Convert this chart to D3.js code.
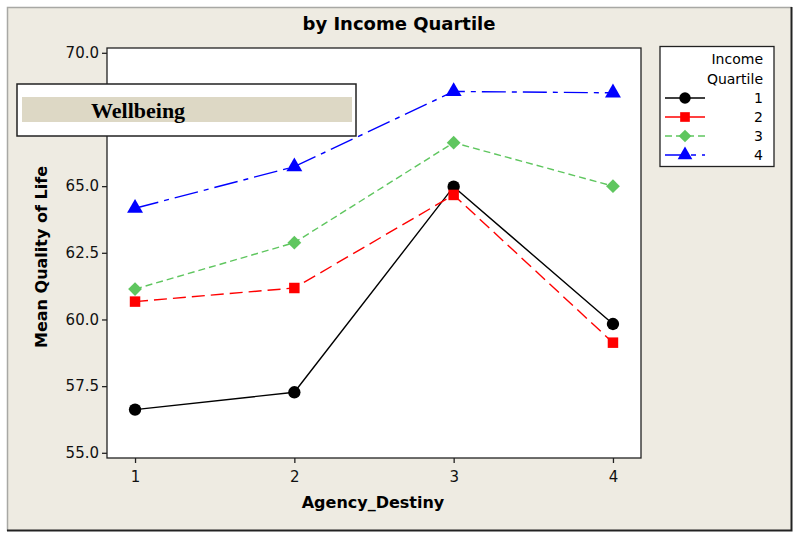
<!DOCTYPE html>
<html lang="en">
<head>
    <meta charset="UTF-8">
    <title>by Income Quartile</title>
    <script src="https://cdn.jsdelivr.net/npm/d3@7"></script>
    <style>
        body { margin: 0; background: #fff; }
        text { font-family: "DejaVu Sans", Verdana, sans-serif; }
    </style>
</head>
<body>
<script>
    // data
    var categories = [1, 2, 3, 4];
    var quartiles = ["1", "2", "3", "4"];
    var q1 = [56.62, 57.27, 64.98, 59.83];
    var q2 = [60.67, 61.18, 64.67, 59.13];
    var q3 = [61.14, 62.88, 66.63, 65.0];
    var q4 = [64.17, 65.73, 68.55, 68.5];
    var yTicks = [55.0, 57.5, 60.0, 62.5, 65.0, 70.0];

    var width = 800, height = 539;
    var svg = d3.select("body").append("svg")
            .attr("width", width)
            .attr("height", height);

    // outer panel
    svg.append("rect").attr("x", 7).attr("y", 7).attr("width", 785).attr("height", 524)
            .style("fill", "#eeebe2");
    svg.append("path").attr("d", "M7.5,531 V7.5 H792")
            .style("fill", "none").style("stroke", "#a8a8a4").style("stroke-width", 1.5);
    svg.append("path").attr("d", "M7,530.5 H791.5 V7")
            .style("fill", "none").style("stroke", "#222").style("stroke-width", 2);

    var plot = {left: 107, right: 641, top: 48, bottom: 458};
    var x = d3.scaleLinear().domain([0.824, 4.176]).range([plot.left, plot.right]);
    var y = d3.scaleLinear().domain([55, 70]).range([452.8, 52.8]);

    svg.append("rect").attr("x", plot.left).attr("y", plot.top)
            .attr("width", plot.right - plot.left).attr("height", plot.bottom - plot.top)
            .style("fill", "#fff").style("stroke", "#222").style("stroke-width", 1.3);

    // axes
    var yAxis = svg.append("g").attr("transform", "translate(" + plot.left + ",0)")
            .call(d3.axisLeft(y).tickValues(yTicks)
                    .tickFormat(d3.format(".1f")).tickSize(5).tickPadding(3));
    var xAxis = svg.append("g").attr("transform", "translate(0," + plot.bottom + ")")
            .call(d3.axisBottom(x).tickValues(categories).tickFormat(d3.format("d")).tickSize(5).tickPadding(8));
    [yAxis, xAxis].forEach(function (a) {
        a.select(".domain").remove();
        a.selectAll("line").style("stroke", "#222").style("stroke-width", 1.3);
        a.selectAll("text").style("font-size", "15px").style("fill", "#111")
                .style("font-family", "'DejaVu Sans', Verdana, sans-serif");
    });

    // titles
    svg.append("text").attr("x", 399).attr("y", 30).attr("text-anchor", "middle")
            .style("font-size", "18px").style("font-weight", "bold").text("by Income Quartile");
    svg.append("text").attr("x", 373).attr("y", 508).attr("text-anchor", "middle")
            .style("font-size", "16px").style("font-weight", "bold").text("Agency_Destiny");
    svg.append("text").attr("transform", "translate(47,257) rotate(-90)").attr("text-anchor", "middle")
            .style("font-size", "16px").style("font-weight", "bold").text("Mean Quality of Life");

    var series = [
        {name: quartiles[0], values: q1, color: "#000000", dash: null, shape: d3.symbolCircle, size: 120, rot: 0},
        {name: quartiles[1], values: q2, color: "#ff0000", dash: "13,6", shape: d3.symbolSquare, size: 110, rot: 0},
        {name: quartiles[2], values: q3, color: "#5fc65f", dash: "7,4", shape: d3.symbolSquare, size: 95, rot: 45},
        {name: quartiles[3], values: q4, color: "#0000ff", dash: "24,6,5,6", shape: d3.symbolTriangle, size: 110, rot: 0}
    ];

    var line = d3.line()
            .x(function (d, i) { return x(categories[i]); })
            .y(function (d) { return y(d); });

    series.forEach(function (s) {
        svg.append("path").datum(s.values).attr("d", line)
                .style("fill", "none").style("stroke", s.color).style("stroke-width", 1.4)
                .style("stroke-dasharray", s.dash);
        svg.selectAll(null).data(s.values).enter().append("path")
                .attr("d", d3.symbol().type(s.shape).size(s.size))
                .attr("transform", function (d, i) {
                    return "translate(" + x(categories[i]) + "," + y(d) + ") rotate(" + s.rot + ")";
                })
                .style("fill", s.color);
    });

    // legend
    var lg = svg.append("g");
    lg.append("rect").attr("x", 660).attr("y", 46.5).attr("width", 114).attr("height", 120)
            .style("fill", "#fff").style("stroke", "#222").style("stroke-width", 1.3);
    lg.append("text").attr("x", 763).attr("y", 64).attr("text-anchor", "end")
            .style("font-size", "14px").text("Income");
    lg.append("text").attr("x", 763).attr("y", 84).attr("text-anchor", "end")
            .style("font-size", "14px").text("Quartile");
    var legendDash = [null, null, "7,4", "20,6,5,6"];
    series.forEach(function (s, i) {
        var ly = 98 + i * 19;
        lg.append("line").attr("x1", 665).attr("x2", 705).attr("y1", ly).attr("y2", ly)
                .style("stroke", s.color).style("stroke-width", 1.4).style("stroke-dasharray", legendDash[i]);
        lg.append("path").attr("d", d3.symbol().type(s.shape).size(s.size * 0.85))
                .attr("transform", "translate(685," + ly + ") rotate(" + s.rot + ")").style("fill", s.color);
        lg.append("text").attr("x", 763).attr("y", ly + 5).attr("text-anchor", "end")
                .style("font-size", "14px").text(s.name);
    });

    // annotation box
    svg.append("rect").attr("x", 17).attr("y", 84).attr("width", 339).attr("height", 52)
            .style("fill", "#fff").style("stroke", "#222").style("stroke-width", 1.5);
    svg.append("rect").attr("x", 22).attr("y", 97).attr("width", 330).attr("height", 25)
            .style("fill", "#ddd8c5");
    svg.append("text").attr("x", 91).attr("y", 118)
            .style("font-family", "'Liberation Serif', 'Times New Roman', serif")
            .style("font-size", "22px").style("font-weight", "bold").text("Wellbeing");
</script>
</body>
</html>
